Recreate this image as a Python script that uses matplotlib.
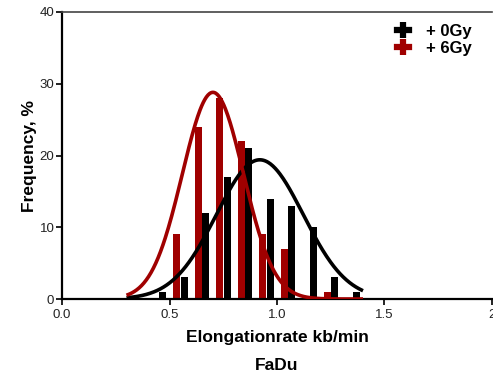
import numpy as np
import matplotlib
matplotlib.use("Agg")
import matplotlib.pyplot as plt
from matplotlib.lines import Line2D

plt.rcParams['font.family'] = ['Liberation Sans', 'DejaVu Sans']

# Histogram bins (bin centres, kb/min) and frequencies (%)
bins = [0.5, 0.6, 0.7, 0.8, 0.9, 1.0, 1.1, 1.2, 1.3, 1.4]
freq_0gy = [1, 3, 12, 17, 21, 14, 13, 10, 3, 1]
freq_6gy = [9, 24, 28, 22, 9, 7, 0, 1, 0, 0]

# Gaussian fit parameters: amplitude, mean, SD
fit_0gy = (19.4, 0.92, 0.202)
fit_6gy = (28.8, 0.702, 0.142)
fit_range = (0.3, 1.4)

labels = ["+ 0Gy", "+ 6Gy"]
xticks = [0.0, 0.5, 1.0, 1.5, 2.0]
xticklabels = ["0.0", "0.5", "1.0", "1.5", "2"]
yticks = [0, 10, 20, 30, 40]

black = "#000000"
red = "#A00000"

fig = plt.figure(figsize=(4.93, 3.74), dpi=100)
ax = fig.add_axes([62 / 493, 75 / 374, 430 / 493, 287 / 374])

bins_arr = np.array(bins)
bw = 0.032
ax.bar(bins_arr - 0.031, freq_0gy, width=bw, color=black, zorder=2)
ax.bar(bins_arr + 0.033, freq_6gy, width=bw, color=red, zorder=2)


def gauss(x, a, m, s):
    return a * np.exp(-0.5 * ((x - m) / s) ** 2)


xs = np.linspace(fit_range[0], fit_range[1], 300)
ax.plot(xs, gauss(xs, *fit_0gy), color=black, lw=2.6, zorder=3, solid_capstyle='butt')
ax.plot(xs, gauss(xs, *fit_6gy), color=red, lw=2.6, zorder=4, solid_capstyle='butt')

ax.set_xlim(0, 2)
ax.set_ylim(0, 40)
ax.set_xticks(xticks)
ax.set_xticklabels(xticklabels)
ax.set_yticks(yticks)
ax.tick_params(direction='out', length=4, width=1.4, labelsize=9.5, pad=1.5,
               colors='#222222')
ax.tick_params(axis='x', pad=3)

ax.spines['right'].set_visible(False)
ax.spines['top'].set_linewidth(1.2)
ax.spines['top'].set_color('#444444')
ax.spines['left'].set_linewidth(1.6)
ax.spines['bottom'].set_linewidth(1.6)

ax.set_xlabel("Elongationrate kb/min", fontsize=12.5, fontweight='bold', labelpad=7)
ax.set_ylabel("Frequency, %", fontsize=12.5, fontweight='bold', labelpad=2)
fig.text(277 / 493, 1 - 366 / 374, "FaDu", fontsize=12.5, fontweight='bold',
         ha='center', va='center')

handles = []
for c in (black, red):
    handles.append((Line2D([], [], color=c, lw=4.5),
                    Line2D([], [], color=c, lw=0, marker='|', markersize=11,
                           markeredgewidth=4.5)))
leg = ax.legend(handles, labels, loc='upper right', bbox_to_anchor=(0.98, 1.0),
                frameon=False, prop={'weight': 'bold', 'size': 12},
                handlelength=0.75, handletextpad=1.0, labelspacing=0.15,
                borderaxespad=0.3)

fig.savefig("out.png", dpi=100)
